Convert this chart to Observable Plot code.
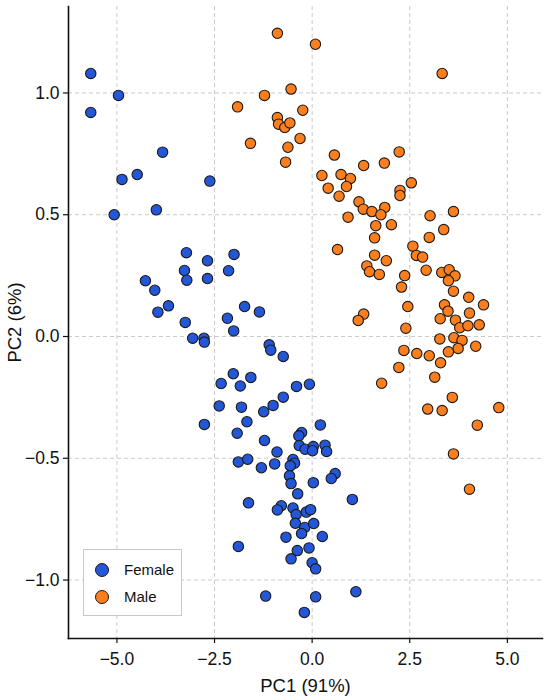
<!DOCTYPE html>
<html>
<head>
<meta charset="utf-8">
<script src="https://cdn.jsdelivr.net/npm/d3@7"></script>
<script src="https://cdn.jsdelivr.net/npm/@observablehq/plot@0.6"></script>
<style>
  html, body { margin: 0; padding: 0; background: #fff; }
  #wrap { position: relative; width: 550px; height: 700px; font-family: "Liberation Sans", Arial, sans-serif; }
  #legend { position: absolute; left: 83px; top: 549px; width: 99px; height: 67px; border: 1.3px solid #c8c8c8; background: #fff; box-sizing: border-box; }
  .item { position: absolute; left: 0; display: flex; align-items: center; font-size: 15px; color: #111; }
  .sw { width: 12px; height: 12px; border-radius: 50%; border: 1px solid #1a1a1a; margin-left: 11px; margin-right: 15px; }
</style>
</head>
<body>
<div id="wrap"></div>
<script>
const groups = ["Female", "Male"];
const colors = ["#2456d8", "#fd7e1d"];
const xTicks = [-5, -2.5, 0, 2.5, 5];
const yTicks = [-1, -0.5, 0, 0.5, 1];

const femalePC1 = [-5.67,-4.96,-5.67,-3.83,-4.87,-4.48,-2.62,-5.07,-3.99,
  -3.22,-2.68,-2.00,-3.27,-3.21,-2.68,-2.14,-4.27,-4.03,-3.68,-3.95,-3.25,-1.73,-1.35,-2.17,-2.01,
  -3.06,-2.77,-2.76,-1.10,-1.06,-0.74,-2.02,-1.57,-2.33,-1.84,-0.40,-0.07,-2.38,-1.81,-1.24,-1.00,
  -0.74,-2.76,-1.67,-1.92,-0.27,-0.34,-1.22,0.21,
  -0.33,-0.18,0.03,0.01,0.33,0.37,-0.90,-1.89,-1.65,-1.30,-0.96,-0.49,-0.45,-0.56,-0.58,-0.54,
  0.03,0.59,0.49,-0.37,1.03,-1.63,-0.79,-0.89,-0.49,-0.41,-0.15,-0.04,
  -0.43,-0.19,0.04,-0.27,-0.67,0.26,-1.89,-0.38,-0.08,-0.54,0.00,0.09,-1.19,0.09,1.12,-0.20];
const femalePC2 = [1.08,0.99,0.92,0.757,0.645,0.665,0.638,0.50,0.52,
  0.344,0.311,0.337,0.271,0.231,0.238,0.27,0.229,0.19,0.126,0.10,0.058,0.123,0.101,0.075,0.023,
  -0.007,-0.007,-0.023,-0.034,-0.056,-0.082,-0.153,-0.168,-0.193,-0.203,-0.205,-0.196,-0.285,-0.29,-0.309,-0.283,
  -0.249,-0.361,-0.35,-0.397,-0.394,-0.408,-0.427,-0.363,
  -0.448,-0.463,-0.452,-0.469,-0.446,-0.472,-0.474,-0.515,-0.504,-0.539,-0.523,-0.505,-0.52,-0.531,-0.572,-0.604,
  -0.60,-0.563,-0.583,-0.646,-0.669,-0.683,-0.695,-0.712,-0.704,-0.731,-0.721,-0.711,
  -0.767,-0.784,-0.768,-0.809,-0.824,-0.821,-0.862,-0.879,-0.868,-0.913,-0.929,-0.954,-1.066,-1.069,-1.048,-1.133];

const malePC1 = [-0.89,0.085,3.33,-0.54,-1.22,-1.91,-0.24,-0.89,-0.86,-0.70,-0.57,-0.31,-1.58,-0.62,-0.68,
  0.57,0.25,0.74,0.98,0.88,0.41,0.69,1.32,1.85,2.23,2.54,2.25,2.25,1.20,1.31,1.53,1.86,1.76,0.92,3.02,3.62,
  1.63,2.03,1.60,0.65,3.37,3.00,2.58,2.67,2.83,1.60,1.90,1.40,1.47,1.72,2.92,2.37,2.29,3.32,3.51,3.66,3.49,
  3.62,4.01,4.39,3.39,3.48,2.45,1.32,1.18,4.03,3.28,3.67,3.78,3.99,4.28,2.40,3.27,3.63,3.84,3.74,3.49,4.19,
  2.35,2.68,3.00,3.29,2.22,3.14,1.78,3.59,2.96,3.33,4.78,4.23,3.62,4.03];
const malePC2 = [1.245,1.20,1.08,1.016,0.99,0.943,0.929,0.899,0.872,0.858,0.877,0.813,0.793,0.777,0.716,
  0.745,0.661,0.665,0.649,0.616,0.609,0.576,0.702,0.712,0.758,0.631,0.60,0.579,0.553,0.523,0.513,0.53,0.50,0.49,0.496,0.513,
  0.455,0.459,0.405,0.357,0.439,0.407,0.371,0.333,0.326,0.334,0.311,0.29,0.266,0.255,0.272,0.25,0.203,0.263,0.274,0.249,0.229,
  0.186,0.161,0.13,0.13,0.104,0.123,0.092,0.066,0.096,0.073,0.067,0.036,0.044,0.048,0.034,-0.01,-0.005,-0.016,-0.049,-0.063,-0.04,
  -0.057,-0.07,-0.079,-0.108,-0.127,-0.167,-0.192,-0.25,-0.298,-0.304,-0.292,-0.364,-0.482,-0.627];

const data = [
  ...femalePC1.map((v, i) => ({pc1: v, pc2: femalePC2[i], sex: "Female"})),
  ...malePC1.map((v, i) => ({pc1: v, pc2: malePC2[i], sex: "Male"}))
];

const fmt = d3.format(".1f");
const font = "Liberation Sans, Arial, sans-serif";

const chart = Plot.plot({
  width: 550,
  height: 700,
  marginLeft: 68,
  marginRight: 8,
  marginTop: 6,
  marginBottom: 62,
  style: {fontFamily: font, background: "#fff", color: "#111"},
  x: {domain: [-6.24, 5.9]},
  y: {domain: [-1.24, 1.355]},
  color: {domain: groups, range: colors},
  marks: [
    Plot.gridX(xTicks, {stroke: "#c4c4c4", strokeOpacity: 1, strokeDasharray: "4,3", strokeWidth: 0.9}),
    Plot.gridY(yTicks, {stroke: "#c4c4c4", strokeOpacity: 1, strokeDasharray: "4,3", strokeWidth: 0.9}),
    Plot.axisX({ticks: xTicks, tickFormat: fmt, tickSize: 5, tickPadding: 9, fontSize: 17.5, label: null, stroke: "#111", strokeWidth: 1.2}),
    Plot.axisY({ticks: yTicks, tickFormat: fmt, tickSize: 5, tickPadding: 4, fontSize: 17.5, label: null, stroke: "#111", strokeWidth: 1.2}),
    Plot.axisX({ticks: [], label: "PC1 (91%)", labelAnchor: "center", labelArrow: "none", labelOffset: 53, fontSize: 18.5, tickSize: 0}),
    Plot.axisY({ticks: [], label: "PC2 (6%)", labelAnchor: "center", labelArrow: "none", labelOffset: 61, fontSize: 18.5, tickSize: 0}),
    Plot.dot(data, {x: "pc1", y: "pc2", fill: "sex", r: 5.2, stroke: "#1a1a1a", strokeWidth: 1.1}),
    Plot.frame({anchor: "left", stroke: "#111", strokeWidth: 1.6}),
    Plot.frame({anchor: "bottom", stroke: "#111", strokeWidth: 1.6})
  ]
});

const wrap = document.getElementById("wrap");
wrap.appendChild(chart);

const legend = document.createElement("div");
legend.id = "legend";
groups.forEach((g, i) => {
  const item = document.createElement("div");
  item.className = "item";
  item.style.top = (i === 0 ? 11 : 38) + "px";
  const sw = document.createElement("span");
  sw.className = "sw";
  sw.style.background = colors[i];
  const t = document.createElement("span");
  t.textContent = g;
  item.appendChild(sw);
  item.appendChild(t);
  legend.appendChild(item);
});
wrap.appendChild(legend);
</script>
</body>
</html>
